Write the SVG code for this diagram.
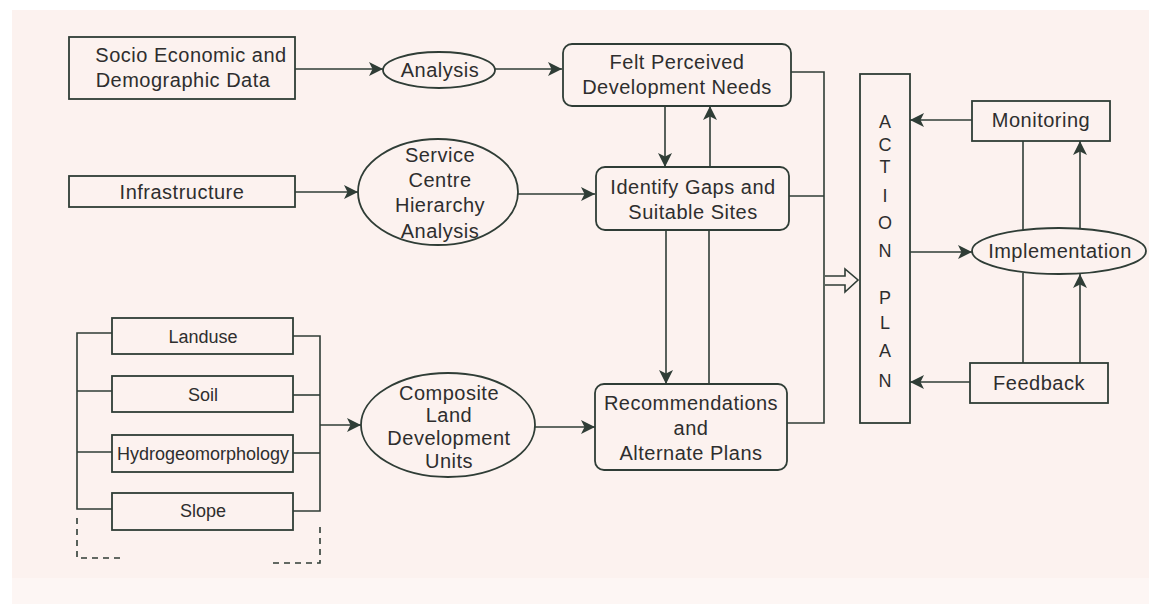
<svg xmlns="http://www.w3.org/2000/svg" width="1149" height="604" viewBox="0 0 1149 604">
<style>
.b{fill:none;stroke:#2f3d36;stroke-width:1.8}
.l{fill:none;stroke:#2f3d36;stroke-width:1.6}
.d{fill:none;stroke:#2f3d36;stroke-width:1.6;stroke-dasharray:6,5}
text{font-family:"Liberation Sans",Arial,sans-serif;font-size:20px;letter-spacing:0.5px;fill:#2e2e2e;text-anchor:middle;dominant-baseline:central}
.s{font-size:18px;letter-spacing:0}
.v{font-size:18px;letter-spacing:0}
</style>
<defs>
<marker id="ar" viewBox="0 0 10 10" refX="10" refY="5" markerWidth="14" markerHeight="14" markerUnits="userSpaceOnUse" orient="auto">
<path d="M0,0 L10,5 L0,10 L2.5,5 Z" fill="#2f3d36"/>
</marker>
</defs>
<rect x="0" y="0" width="1149" height="604" fill="#ffffff"/>
<rect x="12" y="10" width="1137" height="568" fill="#fcf2ef"/>
<rect x="12" y="578" width="1137" height="26" fill="#fdf6f4"/>

<g id="socio"><rect class="b" x="69" y="37" width="226" height="62"/><text x="191" y="55">Socio Economic and</text><text x="183" y="80">Demographic Data</text></g>
<g id="infrastructure"><rect class="b" x="69" y="176" width="226" height="31"/><text x="182" y="192">Infrastructure</text></g>
<g id="analysis"><ellipse class="b" cx="439" cy="70" rx="56" ry="18"/><text x="440" y="70">Analysis</text></g>
<g id="felt"><rect class="b" x="563" y="44" width="228" height="62" rx="9"/><text x="677" y="62">Felt Perceived</text><text x="677" y="87">Development Needs</text></g>
<g id="service"><ellipse class="b" cx="438" cy="192" rx="80" ry="53"/><text x="440" y="155">Service</text><text x="440" y="180">Centre</text><text x="440" y="205">Hierarchy</text><text x="440" y="231">Analysis</text></g>
<g id="identify"><rect class="b" x="596" y="167" width="193" height="63" rx="9"/><text x="693" y="187">Identify Gaps and</text><text x="693" y="212">Suitable Sites</text></g>
<g id="landuse"><rect class="b" x="112" y="318" width="181" height="36"/><text class="s" x="203" y="337">Landuse</text></g>
<g id="soil"><rect class="b" x="112" y="376" width="181" height="36"/><text class="s" x="203" y="395">Soil</text></g>
<g id="hydro"><rect class="b" x="112" y="435" width="181" height="37"/><text class="s" x="203" y="454">Hydrogeomorphology</text></g>
<g id="slope"><rect class="b" x="112" y="493" width="181" height="37"/><text class="s" x="203" y="511">Slope</text></g>
<g id="composite"><ellipse class="b" cx="448" cy="425" rx="87" ry="52"/><text x="449" y="393">Composite</text><text x="449" y="415">Land</text><text x="449" y="438">Development</text><text x="449" y="461">Units</text></g>
<g id="recommend"><rect class="b" x="595" y="384" width="192" height="86" rx="9"/><text x="691" y="403">Recommendations</text><text x="691" y="428">and</text><text x="691" y="453">Alternate Plans</text></g>
<g id="action"><rect class="b" x="860" y="74" width="50" height="349"/>
<text class="v" x="885" y="122">A</text><text class="v" x="885" y="145">C</text><text class="v" x="885" y="167">T</text><text class="v" x="885" y="196">I</text><text class="v" x="885" y="223">O</text><text class="v" x="885" y="251">N</text><text class="v" x="885" y="298">P</text><text class="v" x="885" y="323">L</text><text class="v" x="885" y="351">A</text><text class="v" x="885" y="381">N</text></g>
<g id="monitoring"><rect class="b" x="972" y="101" width="138" height="40"/><text x="1041" y="120">Monitoring</text></g>
<g id="implementation"><ellipse class="b" cx="1059" cy="251" rx="87" ry="23"/><text x="1060" y="251">Implementation</text></g>
<g id="feedback"><rect class="b" x="970" y="363" width="138" height="40"/><text x="1039" y="383">Feedback</text></g>

<g id="connectors">
<line class="l" x1="295" y1="69" x2="383" y2="69" marker-end="url(#ar)"/>
<line class="l" x1="495" y1="69" x2="562" y2="69" marker-end="url(#ar)"/>
<line class="l" x1="295" y1="192" x2="358" y2="192" marker-end="url(#ar)"/>
<line class="l" x1="518" y1="194" x2="595" y2="194" marker-end="url(#ar)"/>
<line class="l" x1="665" y1="106" x2="665" y2="167" marker-end="url(#ar)"/>
<line class="l" x1="710" y1="167" x2="710" y2="106" marker-end="url(#ar)"/>
<line class="l" x1="666" y1="230" x2="666" y2="384" marker-end="url(#ar)"/>
<line class="l" x1="709" y1="384" x2="709" y2="230"/>
<polyline class="l" points="791,72 824,72 824,423 787,423"/>
<line class="l" x1="789" y1="196" x2="824" y2="196"/>
<path class="l" d="M825,276 H845 V269 L858,280 L845,292 V285 H825" fill="#fcf2ef"/>
<polyline class="l" points="112,333 77,333 77,509 112,509"/>
<line class="l" x1="77" y1="391" x2="112" y2="391"/>
<line class="l" x1="77" y1="452" x2="112" y2="452"/>
<polyline class="l" points="293,336 320,336 320,511 293,511"/>
<line class="l" x1="293" y1="395" x2="320" y2="395"/>
<line class="l" x1="293" y1="453" x2="320" y2="453"/>
<line class="l" x1="320" y1="425" x2="361" y2="425" marker-end="url(#ar)"/>
<line class="l" x1="535" y1="427" x2="595" y2="427" marker-end="url(#ar)"/>
<polyline class="d" points="77,518 77,558 123,558"/>
<polyline class="d" points="320,527 320,563 272,563"/>
<line class="l" x1="972" y1="120" x2="910" y2="120" marker-end="url(#ar)"/>
<line class="l" x1="970" y1="382" x2="910" y2="382" marker-end="url(#ar)"/>
<line class="l" x1="910" y1="252" x2="972" y2="252" marker-end="url(#ar)"/>
<line class="l" x1="1023" y1="141" x2="1023" y2="230"/>
<line class="l" x1="1023" y1="273" x2="1023" y2="363"/>
<line class="l" x1="1080" y1="229" x2="1080" y2="141" marker-end="url(#ar)"/>
<line class="l" x1="1080" y1="363" x2="1080" y2="274" marker-end="url(#ar)"/>
</g>
</svg>
